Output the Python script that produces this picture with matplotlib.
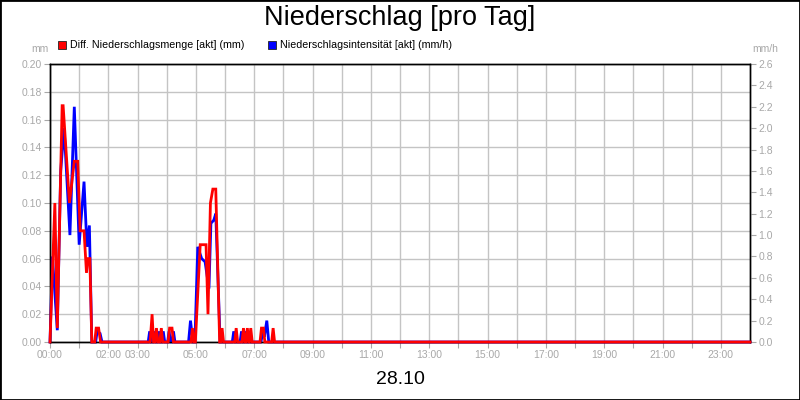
import matplotlib
matplotlib.use("Agg")
import matplotlib.pyplot as plt
from matplotlib.patches import Rectangle
import numpy as np

plt.rcParams['font.family'] = ['Liberation Sans', 'DejaVu Sans']

# ---- data (time in minutes since 00:00) ----
menge_t = [0, 10, 15, 25, 27, 40, 50, 57, 62, 70, 75, 78, 82, 86, 92, 95, 100, 104,
           206, 210, 213, 216, 219, 222, 226, 229, 232, 243, 246, 251, 254,
           290, 293, 296, 299, 309, 321, 325, 330, 335, 341, 349, 351, 354, 357,
           380, 383, 386, 395, 398, 401, 403, 406, 409, 410, 413, 416,
           432, 435, 439, 442, 456, 459, 462, 1440]
menge_v = [0, 0.10, 0.01, 0.17, 0.17, 0.10, 0.13, 0.13, 0.08, 0.08, 0.05, 0.06, 0.06, 0, 0, 0.01, 0.01, 0,
           0, 0.02, 0, 0, 0.01, 0, 0, 0.01, 0, 0, 0.01, 0.01, 0,
           0, 0.01, 0, 0, 0.07, 0.07, 0.02, 0.10, 0.11, 0.11, 0, 0, 0.01, 0,
           0, 0.01, 0, 0, 0.01, 0, 0, 0.01, 0, 0, 0.01, 0,
           0, 0.01, 0.01, 0, 0, 0.01, 0, 0]

intens_t = [0, 5, 15, 22, 29, 41, 50, 60, 70, 76, 81, 86, 94, 97, 103, 107,
            202, 205, 208, 212, 215, 218, 221, 224, 227, 230, 233, 236, 242, 245, 248, 251, 254, 257,
            285, 289, 294, 298, 304, 312, 319, 327, 331, 337, 341, 350,
            375, 378, 381, 391, 394, 397, 400, 403, 406, 407, 410, 413,
            434, 438, 441, 446, 450, 1440]
intens_v = [0, 0.80, 0.11, 1.6, 2.0, 1.0, 2.2, 0.91, 1.5, 0.89, 1.09, 0, 0, 0.1, 0.08, 0,
            0, 0.1, 0, 0, 0.1, 0, 0, 0.1, 0, 0, 0.1, 0, 0, 0.1, 0, 0, 0.1, 0,
            0, 0.2, 0, 0, 0.89, 0.78, 0.75, 0.5, 1.11, 1.14, 1.2, 0,
            0, 0.1, 0, 0, 0.1, 0, 0, 0.1, 0, 0, 0.1, 0,
            0, 0.1, 0.05, 0.2, 0, 0]

hour_ticks = list(range(0, 24))
hour_labels = ['00:00', '', '02:00', '03:00', '', '05:00', '', '07:00', '', '09:00', '',
               '11:00', '', '13:00', '', '15:00', '', '17:00', '', '19:00', '', '21:00', '',
               '23:00']
left_ticks = [0.00, 0.02, 0.04, 0.06, 0.08, 0.10, 0.12, 0.14, 0.16, 0.18, 0.20]
right_ticks = [0.0, 0.2, 0.4, 0.6, 0.8, 1.0, 1.2, 1.4, 1.6, 1.8, 2.0, 2.2, 2.4, 2.6]

title = 'Niederschlag [pro Tag]'
date_label = '28.10'
label_menge = 'Diff. Niederschlagsmenge [akt] (mm)'
label_intens = 'Niederschlagsintensität [akt] (mm/h)'

RED = '#ff0000'
BLUE = '#0000ff'
GRAY = '#a8a8a8'
GRID = '#c4c4c4'

fig = plt.figure(figsize=(8, 4), dpi=100)
W, H = 800, 400
pos = [50 / W, 1 - 342 / H, 700 / W, 278 / H]

ax = fig.add_axes(pos)
ax.set_zorder(1)
ax.set_xlim(0, 1440)
ax.set_ylim(0, 0.2)
ax.set_xticks([h * 60 for h in hour_ticks])
ax.set_xticklabels(hour_labels)
ax.set_yticks(left_ticks)
ax.set_yticklabels([f'{v:.2f}' for v in left_ticks])
ax.grid(True, color=GRID, linewidth=1)
ax.tick_params(direction='out', length=4, color=GRAY, labelcolor=GRAY, labelsize=7.5, pad=2)
for s in ax.spines.values():
    s.set_color('black')
    s.set_linewidth(1)

axb = ax.twinx()
axb.set_zorder(2)
axb.patch.set_visible(False)
axb.set_ylim(0, 2.6)
axb.set_yticks(right_ticks)
axb.set_yticklabels([f'{v:.1f}' for v in right_ticks])
axb.tick_params(direction='out', length=4, color=GRAY, labelcolor=GRAY, labelsize=7.5, pad=2)
axb.plot(intens_t, intens_v, color=BLUE, linewidth=2.0, solid_joinstyle='miter', clip_on=False)
for s in axb.spines.values():
    s.set_color('black')
    s.set_linewidth(1)

axr = fig.add_axes(pos, sharex=ax, sharey=ax)
axr.set_zorder(3)
axr.patch.set_visible(False)
axr.axis('off')
axr.plot(menge_t, menge_v, color=RED, linewidth=2.0, solid_joinstyle='miter', clip_on=False)
axr.set_xlim(0, 1440)
axr.set_ylim(0, 0.2)

fig.text(0.5, 1 - 18 / H, title, ha='center', va='center', fontsize=19.5)
fig.text(0.5, 1 - 380 / H, date_label, ha='center', va='center', fontsize=14)
fig.text(40 / W, 1 - 49 / H, 'mm', ha='center', va='center', fontsize=7.5, color=GRAY)
fig.text(765 / W, 1 - 49 / H, 'mm/h', ha='center', va='center', fontsize=7.5, color=GRAY)

# legend
for x0, col, lab in [(58, RED, label_menge), (268, BLUE, label_intens)]:
    fig.add_artist(Rectangle((x0 / W, 1 - 49 / H), 8 / W, 8 / H, transform=fig.transFigure,
                             facecolor=col, edgecolor='#222222', linewidth=0.6))
    fig.text((x0 + 12) / W, 1 - 45 / H, lab, ha='left', va='center', fontsize=7.7, color='black')

fig.add_artist(Rectangle((0, 0), 1, 1, transform=fig.transFigure, fill=False,
                         edgecolor='black', linewidth=2))

fig.savefig('out.png', dpi=100)
